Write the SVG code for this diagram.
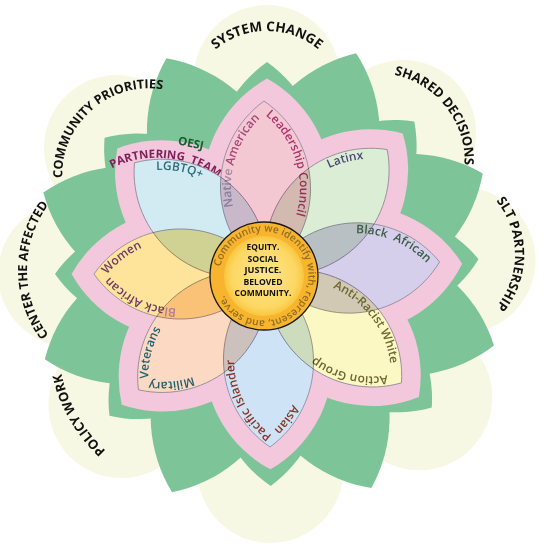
<svg xmlns="http://www.w3.org/2000/svg" xmlns:xlink="http://www.w3.org/1999/xlink" width="547" height="552" viewBox="0 0 547 552">
<defs>
<style>
.cream{fill:#f7f8e3}
.green{fill:#7dc598}
.pink{fill:#f3c7dc}
.pet{stroke:#8b8496;stroke-width:0.8;mix-blend-mode:multiply}
.lab{font-family:"Open Sans","Liberation Sans",sans-serif;font-weight:700;font-size:13px;fill:#111}
.pl{font-family:"Open Sans","Liberation Sans",sans-serif;font-weight:600;font-size:12px}
.ct{font-family:"Open Sans","Liberation Sans",sans-serif;font-weight:700;font-size:9.4px;fill:#111;text-anchor:middle}
</style>
<path id="lens" d="M0,0A105.6,105.6 0 0 1 0,-173A105.6,105.6 0 0 1 0,0Z"/>
<path id="pinkleaf" d="M0,22.4A124.6,124.6 0 0 1 0,-195.4A124.6,124.6 0 0 1 0,22.4Z"/>
<path id="gbig" d="M0,0A145.2,145.2 0 0 1 0,-238A145.2,145.2 0 0 1 0,0Z"/>
<path id="gsmall" d="M0,0A129.6,129.6 0 0 1 0,-212A129.6,129.6 0 0 1 0,0Z"/>
<path id="tp" d="M-0.5,-13.7A95,95 0 0 1 0,-159.7A95,95 0 0 1 0,-13.3"/>
<path id="p-sys" d="M267,193A81,81 0 1 1 267,31A81,81 0 1 1 267,193"/>
<path id="p-shared" d="M310.2,212.9A86,86 0 1 1 445.8,107.1A86,86 0 1 1 310.2,212.9"/>
<path id="p-slt" d="M347,254A84,84 0 1 1 515,254A84,84 0 1 1 347,254"/>
<path id="p-policy" d="M322.1,274.5A141,141 0 1 1 77.9,415.5A141,141 0 1 1 322.1,274.5"/>
<path id="p-center" d="M245,270A109,109 0 1 1 27,270A109,109 0 1 1 245,270"/>
<path id="p-comm" d="M208.1,234.1A85,85 0 1 1 87.9,113.9A85,85 0 1 1 208.1,234.1"/>
<path id="p-partner" d="M149.9,343.6A93,93 0 1 1 166.1,158.4A93,93 0 1 1 149.9,343.6"/>
<path id="p-ring" d="M220.47,266.75A44.5,44.5 0 1 1 307.53,285.25A44.5,44.5 0 1 1 220.47,266.75"/>
<radialGradient id="gin" cx="0.5" cy="0.5" r="0.5">
<stop offset="0" stop-color="#fde691"/>
<stop offset="0.8" stop-color="#fcd862"/>
<stop offset="1" stop-color="#f9c640"/>
</radialGradient>
</defs>
<rect width="547" height="552" fill="#fff"/>
<g id="outer-circles" class="cream">
<circle cx="267" cy="78" r="73"/>
<circle cx="403.2" cy="133" r="73"/>
<circle cx="462.5" cy="260.3" r="73"/>
<circle cx="419.3" cy="397.3" r="73"/>
<circle cx="270.4" cy="470" r="73"/>
<circle cx="121.4" cy="405.1" r="73"/>
<circle cx="71" cy="274" r="73"/>
<circle cx="116.9" cy="148" r="73"/>
</g>
<g id="green-leaves" class="green" transform="translate(267 274)">
<use href="#gbig" transform="rotate(22)"/>
<use href="#gbig" transform="rotate(65)"/>
<use href="#gbig" transform="rotate(107.5)"/>
<use href="#gbig" transform="rotate(154)"/>
<use href="#gbig" transform="rotate(203.5)"/>
<use href="#gbig" transform="rotate(249)"/>
<use href="#gbig" transform="rotate(290)"/>
<use href="#gbig" transform="rotate(335)"/>
<use href="#gsmall" transform="rotate(0)"/>
<use href="#gsmall" transform="rotate(44)"/>
<use href="#gsmall" transform="rotate(86)"/>
<use href="#gsmall" transform="rotate(129)"/>
<use href="#gsmall" transform="rotate(179)"/>
<use href="#gsmall" transform="rotate(228)"/>
<use href="#gsmall" transform="rotate(270)"/>
<use href="#gsmall" transform="rotate(310)"/>
</g>
<g id="outer-labels" class="lab">
<text id="lbl-system" font-size="13.5"><textPath href="#p-sys" startOffset="50%" text-anchor="middle">SYSTEM CHANGE</textPath></text>
<text id="lbl-shared"><textPath href="#p-shared" startOffset="50%" text-anchor="middle">SHARED DECISIONS</textPath></text>
<text id="lbl-slt"><textPath href="#p-slt" startOffset="50%" text-anchor="middle">SLT PARTNERSHIP</textPath></text>
<text id="lbl-policy"><textPath href="#p-policy" startOffset="50%" text-anchor="middle">POLICY WORK</textPath></text>
<text id="lbl-center" font-size="12.6"><textPath href="#p-center" startOffset="50%" text-anchor="middle">CENTER THE AFFECTED</textPath></text>
<text id="lbl-community" font-size="12.6"><textPath href="#p-comm" startOffset="51%" text-anchor="middle">COMMUNITY PRIORITIES</textPath></text>
</g>
<g id="oesj-layer" class="pink" transform="translate(267 274)">
<use href="#pinkleaf" transform="rotate(0)"/>
<use href="#pinkleaf" transform="rotate(44)"/>
<use href="#pinkleaf" transform="rotate(87)"/>
<use href="#pinkleaf" transform="rotate(129)"/>
<use href="#pinkleaf" transform="rotate(179)"/>
<use href="#pinkleaf" transform="rotate(228)"/>
<use href="#pinkleaf" transform="rotate(270)"/>
<use href="#pinkleaf" transform="rotate(310)"/>
</g>
<g id="oesj-label">
<text x="191" y="147" transform="rotate(12 191 143)" font-family="Open Sans, Liberation Sans, sans-serif" font-weight="700" font-size="11.5" fill="#1d5a30" text-anchor="middle">OESJ</text>
<text font-family="Open Sans, Liberation Sans, sans-serif" font-weight="700" font-size="11.5" fill="#7d1f57"><textPath href="#p-partner" startOffset="50%" text-anchor="middle">PARTNERING&#160;&#160;TEAM</textPath></text>
</g>
<g id="petals" style="isolation:isolate">
<g id="petal-leadership" transform="translate(267 274) rotate(-1)">
<use href="#lens" class="pet" fill="#f4c8d3"/>
<text class="pl" font-size="10.2" fill="#a8467a"><textPath href="#tp" startOffset="64"><tspan fill="#a48aa8">Native</tspan> American</textPath></text>
<text class="pl" font-size="11" fill="#a8346a"><textPath href="#tp" startOffset="168">Leadership Council</textPath></text>
</g>
<g id="petal-latinx" transform="translate(267 274) rotate(44)">
<use href="#lens" class="pet" fill="#dcedd5"/>
<text class="pl" fill="#4a4878"><textPath href="#tp" startOffset="134" text-anchor="middle">Latinx</textPath></text>
</g>
<g id="petal-black-african" transform="translate(267 274) rotate(86)">
<use href="#lens" class="pet" fill="#d5cfeb"/>
<text class="pl" font-size="11.5" fill="#3c5c44"><textPath href="#tp" startOffset="88">Black&#160;&#160;African</textPath></text>
</g>
<g id="petal-arwag" transform="translate(267 274) rotate(129)">
<use href="#lens" class="pet" fill="#fcf8c4"/>
<text class="pl" fill="#6d662e"><textPath href="#tp" startOffset="56">Anti-Racist White</textPath></text>
<text class="pl" fill="#6d662e"><textPath href="#tp" startOffset="170.5">Action Group</textPath></text>
</g>
<g id="petal-api" transform="translate(267 274) rotate(179)">
<use href="#lens" class="pet" fill="#cfe3f6"/>
<text class="pl" fill="#8b3426"><textPath href="#tp" startOffset="128.8">Asian Pacific Islander</textPath></text>
</g>
<g id="petal-military" transform="translate(267 274) rotate(228)">
<use href="#lens" class="pet" fill="#fcd9c3"/>
<text class="pl" fill="#1f5f6e"><textPath href="#tp" startOffset="121">Military Veterans</textPath></text>
</g>
<g id="petal-women" transform="translate(267 274) rotate(270)">
<use href="#lens" class="pet" fill="#fde49a"/>
<text class="pl" fill="#6b3b6b"><textPath href="#tp" startOffset="87"><tspan fill="#b07c98">Bl</tspan>ack African Women</textPath></text>
</g>
<g id="petal-lgbtq" transform="translate(267 274) rotate(310)">
<use href="#lens" class="pet" fill="#d2ebf3"/>
<text class="pl" fill="#2d6b78"><textPath href="#tp" startOffset="178">LGBTQ+</textPath></text>
</g>
</g>
<g id="center">
<circle cx="264" cy="276" r="54" fill="#f7b42c" stroke="#1a1a1a" stroke-width="1.3"/>
<circle cx="264" cy="276" r="40" fill="url(#gin)"/>
<text font-family="Open Sans, Liberation Sans, sans-serif" font-weight="600" font-size="10.2" fill="#8f6e28"><textPath href="#p-ring" textLength="250">Community we identify with, represent, and serve.</textPath></text>
<text class="ct" x="263" y="250" textLength="33" lengthAdjust="spacingAndGlyphs">EQUITY.</text>
<text class="ct" x="263" y="262" textLength="31" lengthAdjust="spacingAndGlyphs">SOCIAL</text>
<text class="ct" x="263" y="273" textLength="37" lengthAdjust="spacingAndGlyphs">JUSTICE.</text>
<text class="ct" x="263" y="285" textLength="39" lengthAdjust="spacingAndGlyphs">BELOVED</text>
<text class="ct" x="263" y="296" textLength="57" lengthAdjust="spacingAndGlyphs">COMMUNITY.</text>
</g>
</svg>
